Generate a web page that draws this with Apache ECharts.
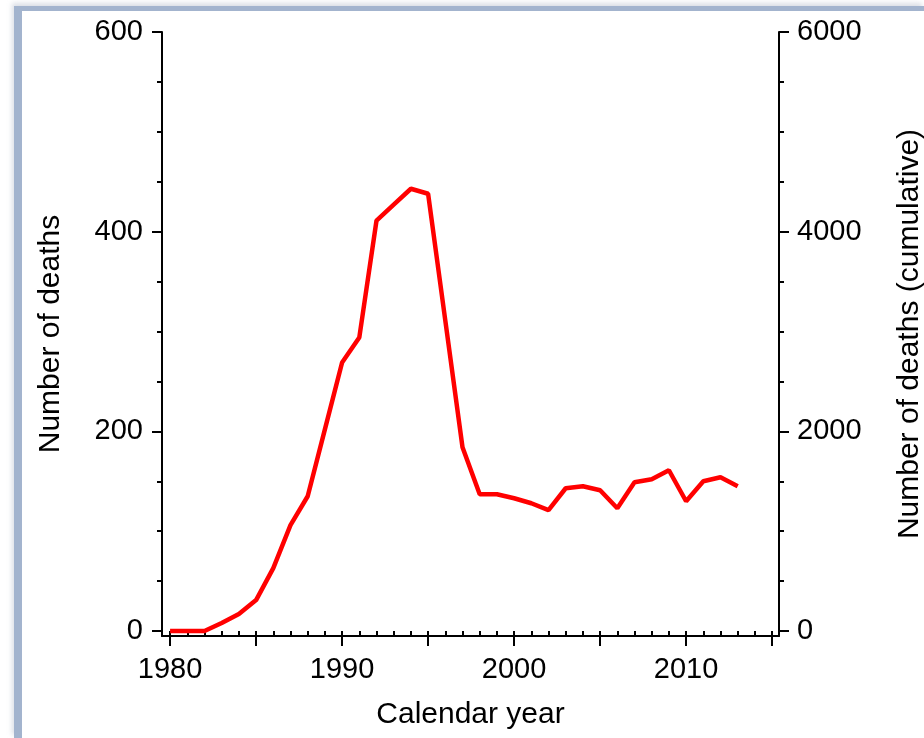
<!DOCTYPE html>
<html>
<head>
<meta charset="utf-8">
<script src="https://cdn.jsdelivr.net/npm/echarts@6/dist/echarts.min.js"></script>
<style>
	html, body { margin: 0; padding: 0; background: #fff; overflow: hidden; width: 924px; height: 738px; }
	.frame {
		position: absolute;
		left: 14px;
		top: 6px;
		width: 902px;
		height: 727px;
		border-top: 5px solid #a3b4ce;
		border-left: 8px solid #a3b4ce;
		box-shadow: -2px -3px 5px rgba(150, 160, 180, 0.35);
	}
	.chart-wrap { position: absolute; left: 0; top: 0; width: 924px; height: 738px; }
</style>
</head>
<body>
<div class="frame"></div>
<div class="chart-wrap" id="chart"></div>
<script>
// 年份
const years = [
	1980, 1981, 1982, 1983, 1984, 1985, 1986, 1987, 1988, 1989,
	1990, 1991, 1992, 1993, 1994, 1995, 1996, 1997, 1998, 1999,
	2000, 2001, 2002, 2003, 2004, 2005, 2006, 2007, 2008, 2009,
	2010, 2011, 2012, 2013,
]
// 每年死亡人数
const deaths = [
	0, 0, 0, 8, 17, 31, 63, 106, 135, 202,
	269, 294, 411, 427, 443, 438, 311, 184, 137, 137,
	133, 128, 121, 143, 145, 141, 123, 149, 152, 161,
	130, 150, 154, 145,
]
// 刻度
const xMajorTicks = [1980, 1985, 1990, 1995, 2000, 2005, 2010, 2015]
const xLabelTicks = [1980, 1990, 2000, 2010]
const xMinorTicks = [
	1980, 1981, 1982, 1983, 1984, 1985, 1986, 1987, 1988, 1989,
	1990, 1991, 1992, 1993, 1994, 1995, 1996, 1997, 1998, 1999,
	2000, 2001, 2002, 2003, 2004, 2005, 2006, 2007, 2008, 2009,
	2010, 2011, 2012, 2013, 2014, 2015,
]
const leftMajorTicks = [0, 200, 400, 600]
const leftMinorTicks = [0, 50, 100, 150, 200, 250, 300, 350, 400, 450, 500, 550, 600]
const rightMajorTicks = [0, 2000, 4000, 6000]
const rightMinorTicks = [0, 500, 1000, 1500, 2000, 2500, 3000, 3500, 4000, 4500, 5000, 5500, 6000]

const FONT = 'Liberation Sans, Arial, sans-serif'
const BLACK = '#000'
// 不加千分位
const plain = (v) => String(Math.round(v))

// 只画刻度的辅助轴
function tickOnlyAxis(base, ticks) {
	return {
		...base,
		axisLine: { show: false },
		axisLabel: { show: false },
		splitLine: { show: false },
		axisTick: {
			show: true,
			length: 5,
			customValues: ticks,
			lineStyle: { color: BLACK, width: 2 },
		},
	}
}

const xBase = { type: 'value', min: 1979.53, max: 2015.4, position: 'bottom', gridIndex: 0 }
const leftBase = { type: 'value', min: -5, max: 600, position: 'left', gridIndex: 0 }
const rightBase = { type: 'value', min: -50, max: 6000, position: 'right', gridIndex: 0 }

const chart = echarts.init(document.getElementById('chart'))
chart.setOption({
	animation: false,
	grid: {
		left: 162,
		right: 145,
		top: 32,
		bottom: 102,
		containLabel: false,
		outerBoundsMode: 'none',
	},
	xAxis: [
		{
			...xBase,
			name: 'Calendar year',
			nameLocation: 'middle',
			nameGap: 64,
			nameTextStyle: { color: BLACK, fontSize: 30, fontFamily: FONT },
			axisLine: { show: true, onZero: false, lineStyle: { color: BLACK, width: 2 } },
			axisTick: {
				show: true,
				length: 10,
				customValues: xMajorTicks,
				lineStyle: { color: BLACK, width: 2 },
			},
			axisLabel: {
				customValues: xLabelTicks,
				formatter: plain,
				margin: 19,
				color: BLACK,
				fontSize: 29,
				fontFamily: FONT,
			},
			splitLine: { show: false },
		},
		tickOnlyAxis(xBase, xMinorTicks),
	],
	yAxis: [
		{
			...leftBase,
			name: 'Number of deaths',
			nameLocation: 'middle',
			nameGap: 96,
			nameTextStyle: { color: BLACK, fontSize: 30, fontFamily: FONT },
			axisLine: { show: true, onZero: false, lineStyle: { color: BLACK, width: 2 } },
			axisTick: {
				show: true,
				length: 10,
				customValues: leftMajorTicks,
				lineStyle: { color: BLACK, width: 2 },
			},
			axisLabel: {
				customValues: leftMajorTicks,
				formatter: plain,
				margin: 19,
				color: BLACK,
				fontSize: 29,
				fontFamily: FONT,
			},
			splitLine: { show: false },
		},
		tickOnlyAxis(leftBase, leftMinorTicks),
		{
			...rightBase,
			name: 'Number of deaths (cumulative)',
			nameLocation: 'middle',
			nameGap: 116,
			nameTextStyle: { color: BLACK, fontSize: 30, fontFamily: FONT },
			axisLine: { show: true, onZero: false, lineStyle: { color: BLACK, width: 2 } },
			axisTick: {
				show: true,
				length: 10,
				customValues: rightMajorTicks,
				lineStyle: { color: BLACK, width: 2 },
			},
			axisLabel: {
				customValues: rightMajorTicks,
				formatter: plain,
				margin: 18,
				color: BLACK,
				fontSize: 29,
				fontFamily: FONT,
			},
			splitLine: { show: false },
		},
		tickOnlyAxis(rightBase, rightMinorTicks),
	],
	series: [
		{
			type: 'line',
			xAxisIndex: 0,
			yAxisIndex: 0,
			data: years.map((y, i) => [y, deaths[i]]),
			showSymbol: false,
			symbol: 'none',
			lineStyle: { color: '#ff0000', width: 4.5 },
			itemStyle: { color: '#ff0000' },
		},
	],
})
</script>
</body>
</html>
